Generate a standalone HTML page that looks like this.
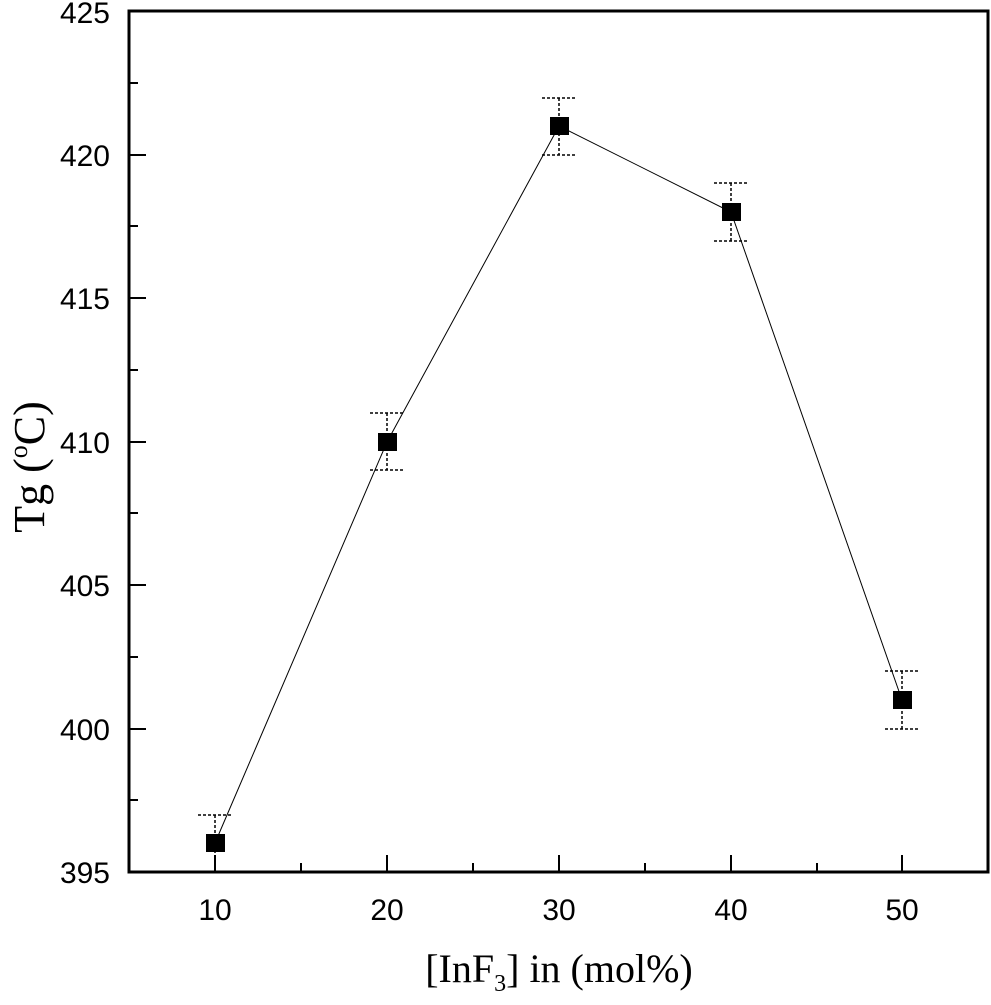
<!DOCTYPE html>
<html><head><meta charset="utf-8"><style>body{margin:0;background:#fff}</style></head><body>
<svg width="991" height="1000" xmlns="http://www.w3.org/2000/svg" font-family="Liberation Sans, sans-serif">
<rect x="129" y="11" width="859" height="861" fill="none" stroke="#000" stroke-width="3"/>
<g stroke="#000" stroke-width="2">
<line x1="129" y1="155" x2="146" y2="155"/><line x1="129" y1="298" x2="146" y2="298"/>
<line x1="129" y1="442" x2="146" y2="442"/><line x1="129" y1="585" x2="146" y2="585"/>
<line x1="129" y1="729" x2="146" y2="729"/>
<line x1="129" y1="83" x2="138" y2="83"/><line x1="129" y1="226" x2="138" y2="226"/>
<line x1="129" y1="370" x2="138" y2="370"/><line x1="129" y1="513" x2="138" y2="513"/>
<line x1="129" y1="657" x2="138" y2="657"/><line x1="129" y1="800" x2="138" y2="800"/>
<line x1="215" y1="872" x2="215" y2="855"/><line x1="387" y1="872" x2="387" y2="855"/>
<line x1="559" y1="872" x2="559" y2="855"/><line x1="731" y1="872" x2="731" y2="855"/>
<line x1="902" y1="872" x2="902" y2="855"/>
<line x1="301" y1="872" x2="301" y2="863"/><line x1="473" y1="872" x2="473" y2="863"/>
<line x1="645" y1="872" x2="645" y2="863"/><line x1="817" y1="872" x2="817" y2="863"/>
</g>
<g font-size="30" text-anchor="end">
<text x="110" y="23">425</text><text x="110" y="166">420</text><text x="110" y="309">415</text>
<text x="110" y="453">410</text><text x="110" y="596">405</text><text x="110" y="740">400</text>
<text x="110" y="883">395</text>
</g>
<g font-size="30" text-anchor="middle">
<text x="215" y="920">10</text><text x="387" y="920">20</text><text x="559" y="920">30</text>
<text x="731" y="920">40</text><text x="902" y="920">50</text>
</g>
<text x="559" y="982" font-family="Liberation Serif, serif" font-size="40" text-anchor="middle">[InF<tspan font-size="24" dy="9">3</tspan><tspan dy="-9">] in (mol%)</tspan></text>
<text transform="translate(44,467) rotate(-90)" font-family="Liberation Serif, serif" font-size="44" text-anchor="middle">Tg (<tspan font-size="26" dy="-17">o</tspan><tspan dy="17">C)</tspan></text>
<polyline points="215,843 387,442 559,126 731,212 902,700" fill="none" stroke="#000" stroke-width="1"/>
<g stroke="#000" stroke-width="1.5" stroke-dasharray="3,2">
<line x1="215" y1="815" x2="215" y2="872"/><line x1="198" y1="815" x2="232" y2="815"/>
<line x1="387" y1="413" x2="387" y2="470"/><line x1="370" y1="413" x2="404" y2="413"/><line x1="370" y1="470" x2="404" y2="470"/>
<line x1="559" y1="98" x2="559" y2="155"/><line x1="542" y1="98" x2="576" y2="98"/><line x1="542" y1="155" x2="576" y2="155"/>
<line x1="731" y1="183" x2="731" y2="241"/><line x1="714" y1="183" x2="748" y2="183"/><line x1="714" y1="241" x2="748" y2="241"/>
<line x1="902" y1="671" x2="902" y2="729"/><line x1="885" y1="671" x2="919" y2="671"/><line x1="885" y1="729" x2="919" y2="729"/>
</g>
<g fill="#000">
<rect x="206" y="834" width="19" height="18"/><rect x="378" y="433" width="19" height="18"/>
<rect x="550" y="117" width="19" height="18"/><rect x="722" y="203" width="19" height="18"/>
<rect x="893" y="691" width="19" height="18"/>
</g>
</svg>
</body></html>
